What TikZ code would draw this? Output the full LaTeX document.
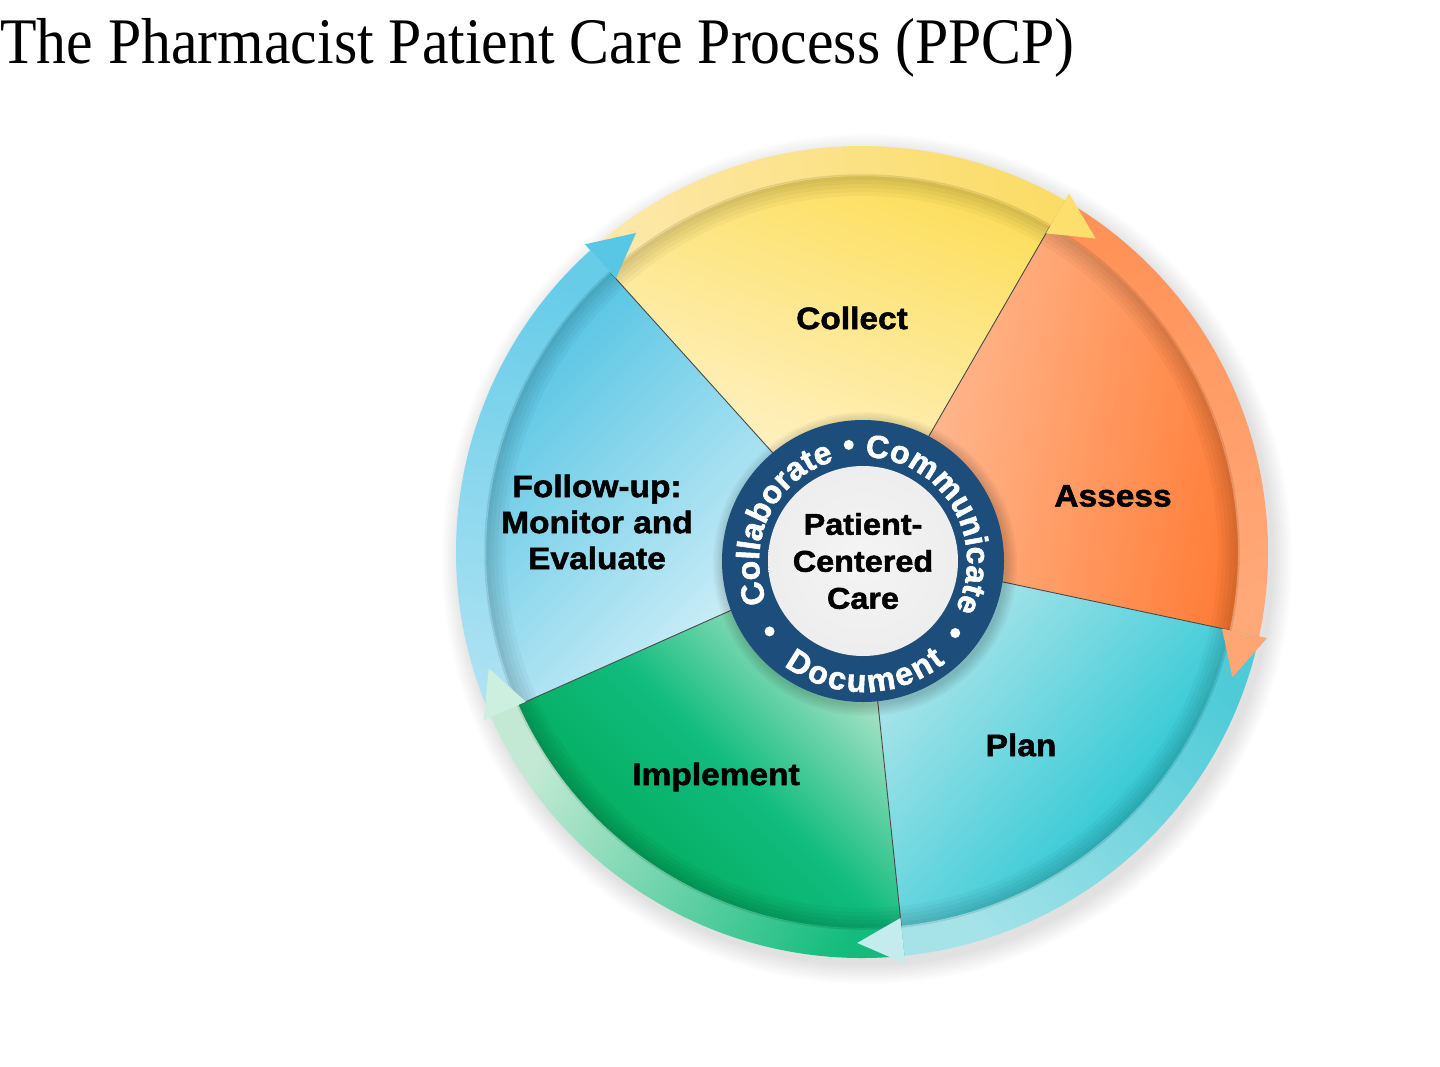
\documentclass[tikz,border=0pt]{standalone}
\usepackage{fontspec}
\setmainfont{Liberation Serif}
\newfontfamily\lsans[FakeBold=1.6, FakeStretch=1.08]{Liberation Sans}
\newfontfamily\lring[FakeBold=1.8]{Liberation Sans}
\usetikzlibrary{decorations.text}
\definecolor{navy}{HTML}{1D4E7B}
\definecolor{divgray}{HTML}{4A4A4A}
\definecolor{colY}{HTML}{FCDD55}
\definecolor{colC}{HTML}{FFF6DE}
\definecolor{assO}{HTML}{FF7A33}
\definecolor{assP}{HTML}{FFC3A0}
\definecolor{plaT}{HTML}{12C2CF}
\definecolor{plaL}{HTML}{B8E7EC}
\definecolor{impG}{HTML}{00A651}
\definecolor{impM}{HTML}{10BC7E}
\definecolor{impL}{HTML}{D4EEDB}
\definecolor{folB}{HTML}{4EC2E2}
\definecolor{folL}{HTML}{E3F5FB}
\definecolor{bCs}{HTML}{FCE8AA}
\definecolor{bCe}{HTML}{FBDC66}
\definecolor{bAs}{HTML}{FF9257}
\definecolor{bAe}{HTML}{FFA878}
\definecolor{bPs}{HTML}{4FCBD8}
\definecolor{bPe}{HTML}{A6E3E9}
\definecolor{bIs}{HTML}{13BC7D}
\definecolor{bIe}{HTML}{C3E9D4}
\definecolor{bFs}{HTML}{AEE2F3}
\definecolor{bFe}{HTML}{66CCE8}
\definecolor{aC}{HTML}{FDDF6E}
\definecolor{aA}{HTML}{FFA674}
\definecolor{aP}{HTML}{C4ECEF}
\definecolor{aI}{HTML}{CDEFE0}
\definecolor{aF}{HTML}{58C7E5}
\definecolor{diskO}{HTML}{F4F4F4}
\definecolor{diskA}{HTML}{EDEDED}
\definecolor{diskB}{HTML}{E3E3E3}
\definecolor{diskC}{HTML}{BDBDBD}
\definecolor{diskD}{HTML}{7C7C7C}
\pgfdeclareradialshading{diskshade}{\pgfpoint{0bp}{0bp}}{color(0bp)=(diskO); color(28bp)=(diskA); color(43bp)=(diskB); color(48bp)=(diskC); color(50bp)=(diskD)}
\newcommand\ringfont{\lring\bfseries\fontsize{32}{32}\selectfont\color{white}}
\begin{document}
\begin{tikzpicture}[x=1pt,y=1pt,
  seglabel/.style={font=\lsans\bfseries\fontsize{31}{36}\selectfont, text=black, align=center, inner sep=0},
  divider/.style={draw=divgray, line width=0.9pt},
  ringword/.style={decorate, decoration={text along path, text={|\ringfont|#1}, text align={fit to path}}},
]
\useasboundingbox (0,0) rectangle (1440,-1066);
\fill[white] (0,0) rectangle (1440,-1066);
\node[anchor=base west, inner sep=0] (title) at (0,-63) {\scalebox{0.92}[1]{\fontsize{65}{70}\selectfont The Pharmacist Patient Care Process (PPCP)}};

\begin{scope}[shift={(862,-552)}]
 % drop shadow
 \foreach \r in {407,409,...,425} \fill[black, opacity=0.012] (5,-7) circle[radius=\r pt];
 % sectors
 \shade[bottom color=colC, top color=colY, shading angle=-20] (0,0) -- (132:378pt) arc[start angle=132,end angle=60,radius=378pt] -- cycle;
 \shade[bottom color=assP, top color=assO, shading angle=-100] (0,0) -- (60:378pt) arc[start angle=60,end angle=-12,radius=378pt] -- cycle;
 \shade[bottom color=plaL, top color=plaT, shading angle=-130] (0,0) -- (-12:378pt) arc[start angle=-12,end angle=-84,radius=378pt] -- cycle;
 \shade[bottom color=impL, top color=impG, middle color=impM, shading angle=135] (0,0) -- (-84:378pt) arc[start angle=-84,end angle=-156,radius=378pt] -- cycle;
 \shade[bottom color=folL, top color=folB, shading angle=45] (0,0) -- (-156:378pt) arc[start angle=-156,end angle=-228,radius=378pt] -- cycle;
 % inner shadow under the ring
 \foreach \r in {356,360,...,374} \fill[black, opacity=0.03, even odd rule] (0,0) circle[radius=377pt] (0,0) circle[radius=\r pt];
 % dividers
 \foreach \a in {132,60,-12,-84,-156} \draw[divider] (0,0) -- (\a:377pt);
 % bands
 \shade[top color=bCs, bottom color=bCe, shading angle=96] (132:376pt) arc[start angle=132,end angle=60,radius=376pt] -- (60:406pt) arc[start angle=60,end angle=132,radius=406pt] -- cycle;
 \shade[top color=bAs, bottom color=bAe, shading angle=24] (60:376pt) arc[start angle=60,end angle=-12,radius=376pt] -- (-12:406pt) arc[start angle=-12,end angle=60,radius=406pt] -- cycle;
 \shade[top color=bPs, bottom color=bPe, shading angle=-48] (-12:376pt) arc[start angle=-12,end angle=-84,radius=376pt] -- (-84:406pt) arc[start angle=-84,end angle=-12,radius=406pt] -- cycle;
 \shade[top color=bIs, bottom color=bIe, shading angle=-120] (-84:376pt) arc[start angle=-84,end angle=-156,radius=376pt] -- (-156:406pt) arc[start angle=-156,end angle=-84,radius=406pt] -- cycle;
 \shade[top color=bFs, bottom color=bFe, shading angle=168] (-156:376pt) arc[start angle=-156,end angle=-228,radius=376pt] -- (-228:406pt) arc[start angle=-228,end angle=-156,radius=406pt] -- cycle;
 \draw[black, opacity=0.10, line width=1.5pt] (0,0) circle[radius=377pt];
 % arrowheads
 \fill[aC] (60:368pt) -- (53.3:391pt) -- (60:414pt) -- cycle;
 \fill[aA] (-12:368pt) -- (-18.7:391pt) -- (-12:414pt) -- cycle;
 \fill[aP] (-84:368pt) -- (-90.7:391pt) -- (-84:414pt) -- cycle;
 \fill[aI] (-156:368pt) -- (-162.7:391pt) -- (-156:414pt) -- cycle;
 \fill[aF] (132:368pt) -- (125.3:391pt) -- (132:414pt) -- cycle;
\end{scope}

% segment labels
\node[seglabel] (collect) at (852,-318) {Collect};
\node[seglabel] (assess) at (1113,-496) {Assess};
\node[seglabel] (plan) at (1021,-745) {Plan};
\node[seglabel] (implement) at (716,-777) {Implement};
\node[seglabel] (follow) at (597,-522) {Follow-up:\\Monitor and\\Evaluate};

% central badge
\begin{scope}[shift={(863,-561)}]
 \foreach \r in {142,144,...,152} \fill[black, opacity=0.03] (2,-3) circle[radius=\r pt];
 \fill[navy] (0,0) circle[radius=141pt];
 \shade[shading=diskshade] (0,0) circle[radius=95pt];
 \path[ringword=Collaborate] (203:104pt) arc[start angle=203,end angle=109,radius=104pt];
 \path[ringword=Communicate] (89:104pt) arc[start angle=89,end angle=-25,radius=104pt];
 \path[ringword=Document] (233:131pt) arc[start angle=233,end angle=309,radius=131pt];
 \fill[white] (97:117pt) circle[radius=5pt];
 \fill[white] (217:117pt) circle[radius=5pt];
 \fill[white] (322:117pt) circle[radius=5pt];
\end{scope}
\node[seglabel, font=\lsans\bfseries\fontsize{30}{37}\selectfont] (pcc) at (863,-561) {Patient-\\Centered\\Care};
\end{tikzpicture}
\end{document}
